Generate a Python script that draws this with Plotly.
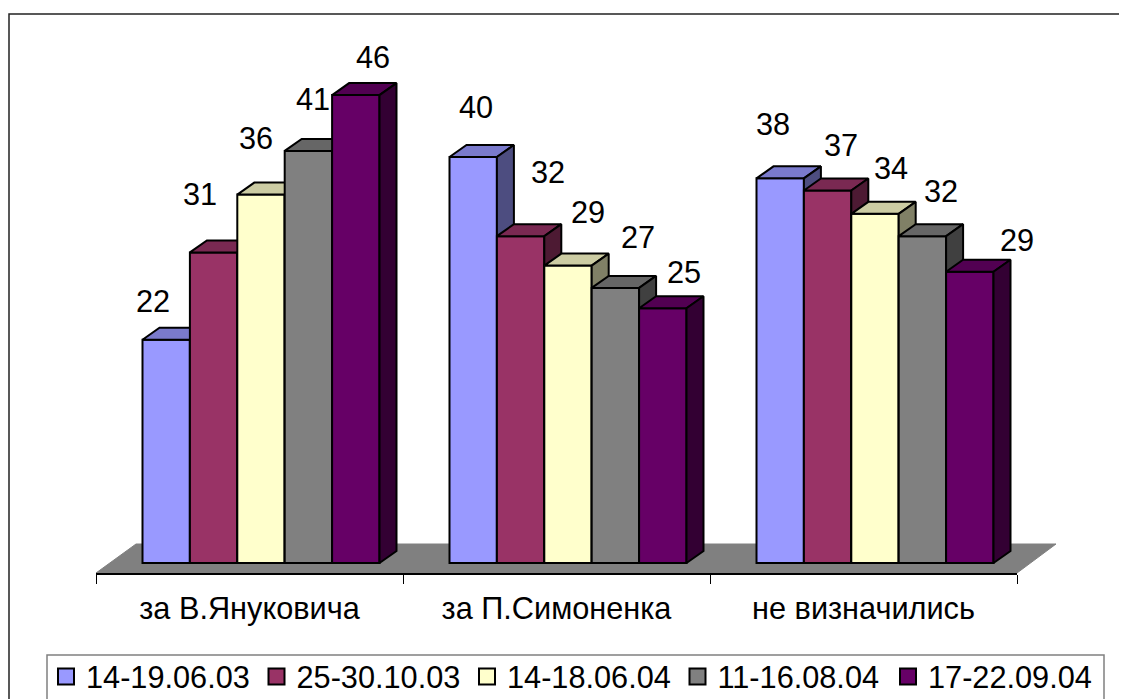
import plotly.graph_objects as go

categories = ["за В.Януковича", "за П.Симоненка", "не визначились"]
series_names = ["14-19.06.03", "25-30.10.03", "14-18.06.04", "11-16.08.04", "17-22.09.04"]
# bar heights; the printed labels are these values rounded
values_a = [22.0, 40.0, 37.9]
values_b = [30.6, 32.2, 36.7]
values_c = [36.3, 29.3, 34.4]
values_d = [40.6, 27.1, 32.2]
values_e = [46.1, 25.1, 28.7]
series_values = [values_a, values_b, values_c, values_d, values_e]

front_colors = ["#9999FF", "#993366", "#FFFFCC", "#808080", "#660066"]
top_colors = ["#7A7ACC", "#7A2952", "#CCCCA3", "#666666", "#520052"]
side_colors = ["#4D4D80", "#4D1A33", "#808066", "#404040", "#330033"]

# hand-placed label offsets in pixels (dx, dy from the bar's top-centre), per series then per group
label_nudges = [
    [(-13, -38), (3, -49), (-7, -54)],
    [(-14, -58), (27, -64), (13, -45)],
    [(-5, -56), (20, -53), (16, -45)],
    [(5, -51), (23, -50), (19, -45)],
    [(17, -38), (21, -36), (47, -31)],
]

# The page body adds 8 px, so the figure's origin sits at (8, 8) in the window.
FIG_W, FIG_H = 1145, 710
L, T, PLOT_W, PLOT_H = 88, 12, 921, 553
PX_X = PLOT_W / 3.0
PX_Y = 10.15
BAR_W = 47.4 / PX_X
GROUP_SHIFT = 11.5 / PX_X
DEPTH_X = 17 / PX_X
DEPTH_Y = 12 / PX_Y
Y_MIN = -10 / PX_Y
Y_MAX = Y_MIN + PLOT_H / PX_Y
X_RANGE = [-0.5, 2.5]
LINE = dict(color="black", width=2)
FONT = "Liberation Sans, Arial, sans-serif"
FONT_SIZE = 30.7


def paper_x(px):
    return (px - 8) / FIG_W


def paper_y(px):
    return 1 - (px - 8) / FIG_H


fig = go.Figure()

for name, color in zip(series_names, front_colors):
    fig.add_trace(go.Scatter(
        x=[None], y=[None], mode="markers", name=name,
        marker=dict(symbol="square", size=19, color=color, line=dict(color="black", width=2)),
    ))

annotations = []
for i, vals in enumerate(series_values):
    xa, ya = f"x{i + 2}", f"y{i + 2}"
    xs = [g + GROUP_SHIFT + (i - 2) * BAR_W for g in range(len(categories))]
    fig.add_trace(go.Bar(
        x=xs, y=vals, width=BAR_W, xaxis=xa, yaxis=ya, showlegend=False, name=series_names[i],
        marker=dict(color=front_colors[i], line=LINE), cliponaxis=False,
    ))
    top_x, top_y, side_x, side_y = [], [], [], []
    for x, v in zip(xs, vals):
        l, r = x - BAR_W / 2, x + BAR_W / 2
        top_x += [l, r, r + DEPTH_X, l + DEPTH_X, l, None]
        top_y += [v, v, v + DEPTH_Y, v + DEPTH_Y, v, None]
        side_x += [r, r + DEPTH_X, r + DEPTH_X, r, r, None]
        side_y += [0, DEPTH_Y, v + DEPTH_Y, v, 0, None]
    for fx, fy, col in ((top_x, top_y, top_colors[i]), (side_x, side_y, side_colors[i])):
        fig.add_trace(go.Scatter(
            x=fx, y=fy, xaxis=xa, yaxis=ya, mode="lines", fill="toself", fillcolor=col,
            line=LINE, cliponaxis=False, showlegend=False, hoverinfo="skip",
        ))
    for x, v, (dx, dy) in zip(xs, vals, label_nudges[i]):
        annotations.append(dict(
            x=x, y=v, xref="x", yref="y", text=str(round(v)), showarrow=False,
            xshift=dx, yshift=-dy, xanchor="center", yanchor="middle",
            font=dict(family=FONT, size=FONT_SIZE, color="black"),
        ))

layout_axes = {}
for i in range(2, 7):
    layout_axes[f"xaxis{i}"] = dict(overlaying="x", range=X_RANGE, visible=False, anchor=f"y{i}")
    layout_axes[f"yaxis{i}"] = dict(overlaying="y", range=[Y_MIN, Y_MAX], visible=False, anchor=f"x{i}")

floor_path = "M{} {} L{} {} L{} {} L{} {} Z".format(
    paper_x(96), paper_y(573), paper_x(1017), paper_y(573),
    paper_x(1056), paper_y(544), paper_x(136), paper_y(544),
)

fig.update_layout(
    width=FIG_W, height=FIG_H, autosize=False,
    margin=dict(l=0, r=0, t=0, b=0, autoexpand=False),
    paper_bgcolor="white", plot_bgcolor="rgba(0,0,0,0)",
    xaxis=dict(
        domain=[L / FIG_W, (L + PLOT_W) / FIG_W],
        range=X_RANGE, tickmode="array", tickvals=[0, 1, 2], ticktext=categories,
        ticks="", showgrid=False, zeroline=False, showline=True, linecolor="black", linewidth=1.5,
        minor=dict(tickmode="array", tickvals=[-0.5, 0.5, 1.5, 2.5], ticks="outside", ticklen=9,
                   tickcolor="black", tickwidth=1, showgrid=False),
        tickfont=dict(family=FONT, size=FONT_SIZE, color="black"), ticklabelstandoff=7,
    ),
    yaxis=dict(
        domain=[1 - (T + PLOT_H) / FIG_H, 1 - T / FIG_H],
        range=[Y_MIN, Y_MAX], visible=False,
    ),
    showlegend=True,
    legend=dict(
        orientation="h", x=paper_x(46), xanchor="left", y=paper_y(650), yanchor="top",
        font=dict(family=FONT, size=FONT_SIZE, color="black"), bgcolor="rgba(0,0,0,0)",
        entrywidth=165.5, entrywidthmode="pixels", itemsizing="trace", traceorder="normal",
    ),
    annotations=annotations,
    shapes=[
        dict(type="path", xref="paper", yref="paper", path=floor_path, layer="below",
             fillcolor="#808080", line=dict(color="#808080", width=1)),
        dict(type="rect", xref="paper", yref="paper", x0=paper_x(9), x1=paper_x(1170),
             y0=paper_y(740), y1=paper_y(14), line=dict(color="#222222", width=1.5)),
        dict(type="rect", xref="paper", yref="paper", x0=paper_x(47), x1=paper_x(1104),
             y0=paper_y(740), y1=paper_y(655), line=dict(color="#808080", width=1.5)),
    ],
    **layout_axes,
)

fig.write_html("out.html")
